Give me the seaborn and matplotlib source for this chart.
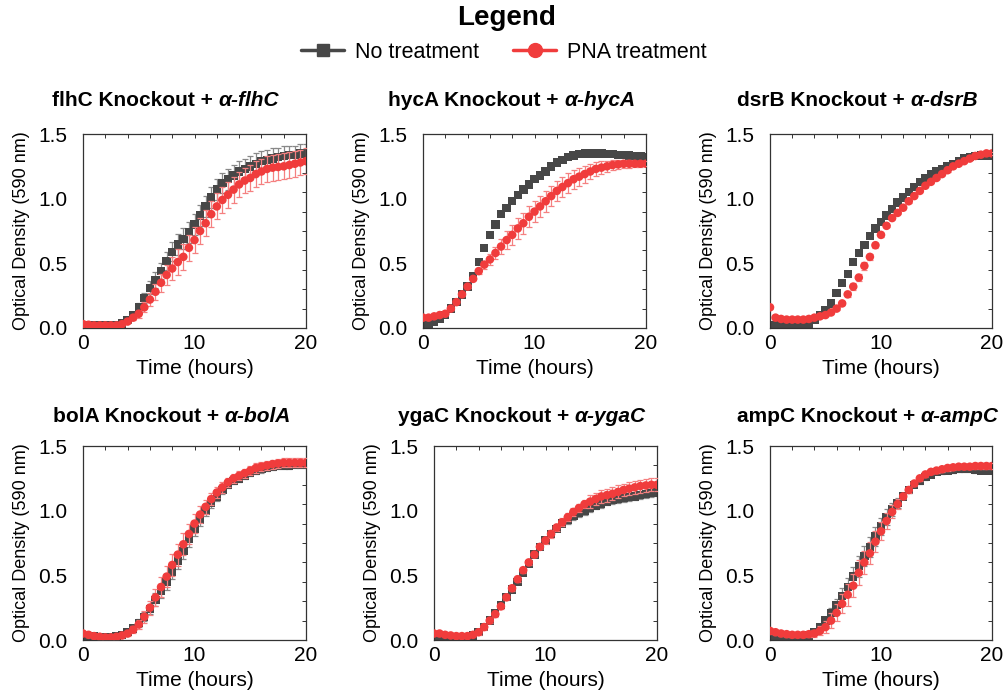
import numpy as np
import pandas as pd
import seaborn as sns
import matplotlib.pyplot as plt
from matplotlib.lines import Line2D
from matplotlib.ticker import MultipleLocator

sns.set_theme(style="ticks")
plt.rcParams["font.family"] = ["Liberation Sans", "DejaVu Sans"]
plt.rcParams["text.color"] = "black"
plt.rcParams["axes.labelcolor"] = "black"
plt.rcParams["xtick.labelcolor"] = "black"
plt.rcParams["ytick.labelcolor"] = "black"

# sampling times (hours)
hours = np.arange(0, 20.01, 0.5)

# OD590, every 0.5 h from 0 to 20 h
flhc_none = [0.02, 0.02, 0.02, 0.02, 0.02, 0.02, 0.025, 0.035, 0.06, 0.10,
             0.16, 0.23, 0.31, 0.37, 0.44, 0.52, 0.59, 0.645, 0.69, 0.74,
             0.80, 0.87, 0.94, 1.01, 1.07, 1.12, 1.15, 1.18, 1.21, 1.23,
             1.25, 1.27, 1.29, 1.30, 1.31, 1.32, 1.33, 1.34, 1.34, 1.35,
             1.35]
flhc_none_sd = [0.005] * 7 + [0.01, 0.015, 0.02, 0.03, 0.04, 0.05, 0.06, 0.065, 0.07, 0.075] + \
               [0.08] * 18 + [0.075, 0.075, 0.07, 0.07, 0.07, 0.07]
flhc_pna = [0.03, 0.025, 0.02, 0.02, 0.02, 0.02, 0.02, 0.03, 0.05, 0.08,
            0.11, 0.16, 0.22, 0.28, 0.35, 0.41, 0.46, 0.51, 0.55, 0.62,
            0.68, 0.75, 0.81, 0.88, 0.94, 0.99, 1.03, 1.07, 1.11, 1.14,
            1.16, 1.19, 1.21, 1.23, 1.24, 1.245, 1.25, 1.26, 1.27, 1.28,
            1.29]
flhc_pna_sd = [0.005] * 7 + [0.01, 0.015, 0.02, 0.03, 0.04, 0.05, 0.06, 0.07, 0.08, 0.09] + [0.1] * 24

hyca_none = [0.02, 0.03, 0.05, 0.07, 0.10, 0.15, 0.20, 0.26, 0.32, 0.40,
             0.51, 0.62, 0.72, 0.80, 0.88, 0.93, 0.98, 1.03, 1.07, 1.11,
             1.15, 1.18, 1.21, 1.25, 1.28, 1.30, 1.32, 1.335, 1.345, 1.35,
             1.35, 1.35, 1.35, 1.345, 1.345, 1.34, 1.34, 1.335, 1.33, 1.325,
             1.32]
hyca_none_sd = [0.01] * 28 + [0.015] * 13
hyca_pna = [0.08, 0.08, 0.09, 0.10, 0.11, 0.15, 0.20, 0.26, 0.32, 0.38,
            0.44, 0.49, 0.53, 0.58, 0.63, 0.68, 0.72, 0.77, 0.81, 0.86,
            0.90, 0.94, 0.98, 1.02, 1.06, 1.09, 1.12, 1.15, 1.17, 1.19,
            1.21, 1.23, 1.24, 1.25, 1.26, 1.265, 1.27, 1.27, 1.27, 1.27,
            1.27]
hyca_pna_sd = [0.01] * 10 + [0.02, 0.03, 0.04, 0.05, 0.06, 0.07, 0.08] + [0.08] * 10 + \
              [0.075, 0.07, 0.065, 0.06, 0.055, 0.05, 0.045, 0.04, 0.035, 0.03, 0.03, 0.025, 0.025, 0.02]

dsrb_none = [0.02, 0.02, 0.02, 0.02, 0.02, 0.02, 0.02, 0.035, 0.06, 0.10,
             0.14, 0.19, 0.27, 0.35, 0.42, 0.51, 0.58, 0.64, 0.71, 0.77,
             0.82, 0.87, 0.92, 0.97, 1.01, 1.05, 1.09, 1.13, 1.16, 1.19,
             1.21, 1.23, 1.25, 1.27, 1.29, 1.31, 1.32, 1.33, 1.335, 1.335,
             1.335]
dsrb_none_sd = [0.008] * 41
dsrb_pna = [0.16, 0.08, 0.07, 0.065, 0.065, 0.065, 0.065, 0.07, 0.08, 0.09,
            0.10, 0.12, 0.15, 0.19, 0.26, 0.32, 0.39, 0.48, 0.55, 0.64,
            0.72, 0.79, 0.85, 0.89, 0.93, 0.98, 1.02, 1.06, 1.10, 1.13,
            1.16, 1.19, 1.22, 1.25, 1.27, 1.29, 1.31, 1.33, 1.34, 1.35,
            1.35]
dsrb_pna_sd = [0.01] * 13 + [0.015, 0.02, 0.025, 0.03, 0.03, 0.025, 0.02, 0.015] + [0.01] * 20

bola_none = [0.03, 0.03, 0.03, 0.025, 0.025, 0.025, 0.03, 0.04, 0.06, 0.09,
             0.13, 0.18, 0.24, 0.31, 0.38, 0.45, 0.53, 0.61, 0.69, 0.78,
             0.86, 0.93, 1.00, 1.06, 1.11, 1.16, 1.20, 1.23, 1.25, 1.27,
             1.29, 1.31, 1.32, 1.33, 1.34, 1.345, 1.35, 1.35, 1.355, 1.355,
             1.355]
bola_none_sd = [0.01] * 8 + [0.015, 0.02, 0.03, 0.035, 0.04, 0.05, 0.055, 0.06, 0.06,
                             0.06, 0.06, 0.06, 0.055, 0.05, 0.045, 0.04, 0.035, 0.03] + [0.025] * 15
bola_pna = [0.05, 0.04, 0.03, 0.025, 0.02, 0.02, 0.025, 0.035, 0.05, 0.08,
            0.12, 0.18, 0.25, 0.33, 0.41, 0.49, 0.58, 0.66, 0.74, 0.82,
            0.90, 0.97, 1.03, 1.09, 1.14, 1.18, 1.22, 1.25, 1.27, 1.29,
            1.31, 1.33, 1.34, 1.35, 1.36, 1.365, 1.37, 1.37, 1.37, 1.37,
            1.37]
bola_pna_sd = [0.015] * 8 + [0.02, 0.025, 0.035, 0.045, 0.055, 0.065, 0.075, 0.08, 0.085,
                             0.085, 0.085, 0.08, 0.075, 0.065, 0.055, 0.05, 0.045, 0.04] + [0.035] * 15

ygac_none = [0.02, 0.02, 0.02, 0.02, 0.02, 0.02, 0.025, 0.035, 0.06, 0.10,
             0.15, 0.21, 0.27, 0.33, 0.39, 0.45, 0.52, 0.59, 0.66, 0.72,
             0.77, 0.82, 0.86, 0.90, 0.93, 0.96, 0.98, 1.00, 1.02, 1.04,
             1.05, 1.07, 1.08, 1.09, 1.10, 1.105, 1.11, 1.12, 1.13, 1.135,
             1.14]
ygac_none_sd = [0.008] * 8 + [0.015] * 16 + [0.03] * 17
ygac_pna = [0.05, 0.05, 0.04, 0.035, 0.03, 0.03, 0.03, 0.04, 0.06, 0.10,
            0.15, 0.20, 0.26, 0.33, 0.40, 0.47, 0.54, 0.60, 0.66, 0.72,
            0.77, 0.82, 0.87, 0.91, 0.95, 0.99, 1.02, 1.05, 1.07, 1.09,
            1.11, 1.12, 1.13, 1.145, 1.16, 1.17, 1.18, 1.19, 1.195, 1.20,
            1.20]
ygac_pna_sd = [0.01] * 8 + [0.02] * 12 + [0.03] * 8 + [0.05] * 13

ampc_none = [0.03, 0.025, 0.02, 0.02, 0.02, 0.02, 0.025, 0.035, 0.06, 0.10,
             0.15, 0.21, 0.27, 0.34, 0.41, 0.49, 0.57, 0.65, 0.72, 0.80,
             0.88, 0.95, 1.01, 1.06, 1.11, 1.16, 1.20, 1.23, 1.26, 1.28,
             1.30, 1.305, 1.31, 1.315, 1.32, 1.32, 1.32, 1.315, 1.31, 1.31,
             1.31]
ampc_none_sd = [0.01] * 8 + [0.015, 0.02, 0.03, 0.04, 0.05, 0.06, 0.07, 0.075,
                             0.08, 0.08, 0.075, 0.07, 0.065, 0.06, 0.05, 0.04] + [0.02] * 17
ampc_pna = [0.07, 0.06, 0.05, 0.045, 0.04, 0.04, 0.04, 0.045, 0.05, 0.07,
            0.10, 0.15, 0.21, 0.28, 0.35, 0.42, 0.52, 0.60, 0.67, 0.76,
            0.84, 0.92, 0.99, 1.05, 1.11, 1.16, 1.21, 1.25, 1.28, 1.30,
            1.31, 1.32, 1.33, 1.335, 1.34, 1.34, 1.34, 1.345, 1.345, 1.345,
            1.345]
ampc_pna_sd = [0.02] * 8 + [0.025, 0.035, 0.045, 0.055, 0.065, 0.075, 0.085, 0.09,
                            0.095, 0.09, 0.085, 0.08, 0.07, 0.06, 0.05, 0.04] + [0.02] * 17

genes = ["flhC", "hycA", "dsrB", "bolA", "ygaC", "ampC"]
series = [
    (flhc_none, flhc_none_sd, flhc_pna, flhc_pna_sd),
    (hyca_none, hyca_none_sd, hyca_pna, hyca_pna_sd),
    (dsrb_none, dsrb_none_sd, dsrb_pna, dsrb_pna_sd),
    (bola_none, bola_none_sd, bola_pna, bola_pna_sd),
    (ygac_none, ygac_none_sd, ygac_pna, ygac_pna_sd),
    (ampc_none, ampc_none_sd, ampc_pna, ampc_pna_sd),
]

W, H = 1008, 698
# axes boxes in pixels: left, right, top, bottom
boxes = [(83, 306, 134, 328), (423, 646, 134, 328), (770, 992, 134, 328),
         (83, 306, 446, 640), (434, 657, 446, 640), (770, 992, 446, 640)]
title_pos = [(52, 101), (388, 101), (737, 101), (53, 416), (398, 416), (737, 416)]

gray, gray_err = "#474747", "#888888"
red, red_err = "#f03c3c", "#f58080"

fig = plt.figure(figsize=(W / 100, H / 100), dpi=100)

for i, gene in enumerate(genes):
    l, r, t, b = boxes[i]
    ax = fig.add_axes([l / W, 1 - b / H, (r - l) / W, (b - t) / H])
    none, none_sd, pna, pna_sd = series[i]
    df = pd.DataFrame({"Time": hours, "none": none, "none_sd": none_sd,
                       "pna": pna, "pna_sd": pna_sd})

    ax.errorbar(df["Time"], df["none"], yerr=df["none_sd"], fmt="none", ecolor=gray_err,
                elinewidth=0.9, capsize=2.4, capthick=0.9, zorder=1)
    sns.scatterplot(data=df, x="Time", y="none", marker="s", s=36, color=gray,
                    edgecolor="none", ax=ax, zorder=2)
    ax.errorbar(df["Time"], df["pna"], yerr=df["pna_sd"], fmt="none", ecolor=red_err,
                elinewidth=0.9, capsize=2.4, capthick=0.9, zorder=3)
    sns.scatterplot(data=df, x="Time", y="pna", marker="o", s=38, color=red,
                    edgecolor="none", ax=ax, zorder=4)

    ax.set_xlim(0, 20)
    ax.set_ylim(0, 1.5)
    ax.set_xticks([0, 10, 20])
    ax.set_yticks([0.0, 0.5, 1.0, 1.5])
    ax.set_yticklabels(["0.0", "0.5", "1.0", "1.5"])
    ax.xaxis.set_minor_locator(MultipleLocator(2))
    ax.yaxis.set_minor_locator(MultipleLocator(0.15))
    ax.tick_params(axis="x", which="both", bottom=False, top=True, direction="in",
                   length=3, width=0.7, color="#333333", labelsize=15, pad=4)
    ax.tick_params(axis="y", which="major", left=False, right=False, labelsize=15, pad=5)
    ax.tick_params(axis="y", which="minor", left=False, right=True, direction="in",
                   length=3, width=0.7, color="#333333")
    for sp in ax.spines.values():
        sp.set_color("#333333")
        sp.set_linewidth(0.9)
    ax.set_xlabel("Time (hours)", fontsize=15, labelpad=5)
    ax.set_ylabel("Optical Density (590 nm)", fontsize=13, labelpad=6)

    tx, ty = title_pos[i]
    t1 = fig.text(tx / W, 1 - ty / H, f"{gene} Knockout +", fontsize=15,
                  fontweight="bold", ha="left", va="center")
    ax.annotate(f"\u03b1-{gene}", xy=(1, 0), xycoords=t1, xytext=(4, 0),
                textcoords="offset points", fontsize=15, fontweight="bold",
                fontstyle="italic", ha="left", va="bottom")

handles = [Line2D([0], [0], color=gray, marker="s", markersize=9, linewidth=2.5),
           Line2D([0], [0], color=red, marker="o", markersize=10, linewidth=2.5)]
fig.legend(handles, ["No treatment", "PNA treatment"], loc="center",
           bbox_to_anchor=(0.5, 1 - 52 / H), ncol=2, frameon=False,
           fontsize=15.5, handlelength=2.0, handletextpad=0.5, columnspacing=1.6)
fig.text(0.503, 1 - 18 / H, "Legend", fontsize=20, fontweight="bold",
         ha="center", va="center")

fig.savefig("out.png", dpi=100)
